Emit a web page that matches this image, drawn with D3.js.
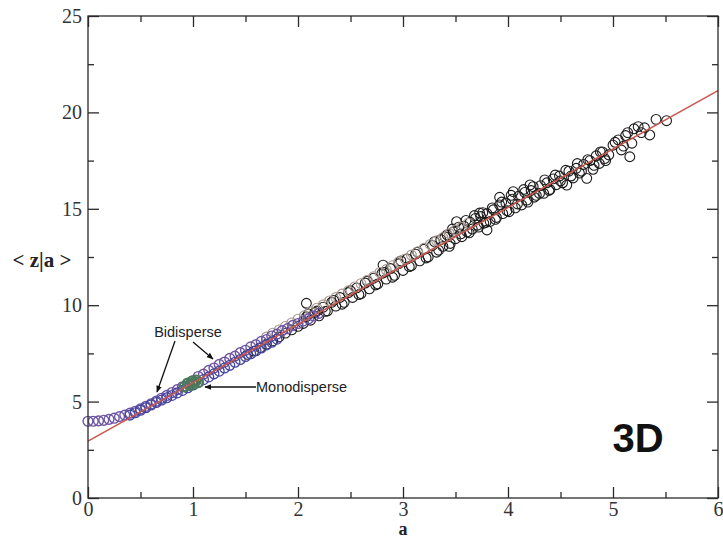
<!DOCTYPE html>
<html>
<head>
<meta charset="utf-8">
<script src="https://cdn.jsdelivr.net/npm/d3@7/dist/d3.min.js"></script>
<style>
  html, body { margin: 0; padding: 0; background: #fff; }
  svg { display: block; }
</style>
</head>
<body>
<svg id="chart" width="723" height="538"></svg>
<script>
// Axis ticks
const xTicks = [0, 1, 2, 3, 4, 5, 6];
const yTicks = [0, 5, 10, 15, 20, 25];

// Bidisperse packing, first component (purple)
const bidisperseA = [
  [0.00,3.98],[0.05,3.98],[0.10,4.00],[0.15,4.03],[0.20,4.08],[0.25,4.14],[0.30,4.22],
  [0.35,4.30],[0.40,4.40],[0.45,4.50],[0.50,4.62],[0.55,4.75],[0.60,4.88],[0.65,5.02],
  [0.70,5.17],[0.75,5.32],[0.80,5.47],[0.85,5.62],[0.90,5.77],[0.95,5.92],[1.00,6.07],
  [1.05,6.30],[1.10,6.42],[1.15,6.62],[1.20,6.74],[1.25,6.93],[1.30,7.05],[1.35,7.24],
  [1.40,7.36],[1.45,7.54],[1.50,7.66],[1.55,7.84],[1.60,7.95],[1.65,8.12],[1.70,8.22],
  [1.75,8.40],[1.80,8.50],[1.85,8.68],[1.90,8.78],[1.95,8.95],[2.00,9.05],[2.05,9.18],
  [2.10,9.30],[2.15,9.44],[2.20,9.58]
];

// Bidisperse packing, second component (blue)
const bidisperseB = [
  [0.40,4.30],[0.45,4.42],[0.50,4.55],[0.55,4.68],[0.60,4.82],[0.65,4.95],[0.70,5.08],
  [0.75,5.20],[0.80,5.32],[0.85,5.45],[0.90,5.58],[0.95,5.72],[1.00,5.86],[1.05,6.00],
  [1.10,6.14],[1.15,6.28],[1.20,6.44],[1.25,6.58],[1.30,6.74],[1.35,6.88],[1.40,7.04],
  [1.45,7.18],[1.50,7.34],[1.55,7.48],[1.60,7.64],[1.65,7.78],[1.70,7.94],[1.75,8.08],
  [1.80,8.24]
];

// Monodisperse packing (green)
const monodisperse = [
  [0.92,5.78],[0.95,5.95],[0.97,5.85],[0.99,6.05],[1.01,5.92],[1.03,6.10],[1.05,6.00]
];

// Larger systems (gray)
const graySeries = [
  [1.70,8.35],[1.76,8.55],[1.82,8.72],[1.88,8.90],[1.94,9.08],[2.00,9.28],[2.06,9.45],
  [2.12,9.66],[2.18,9.85],[2.24,10.02],[2.30,10.22],[2.36,10.40],[2.42,10.58],[2.48,10.75],
  [2.54,10.95],[2.60,11.12],[2.66,11.30],[2.72,11.48],[2.78,11.70],[2.84,11.85],[2.90,12.05],
  [2.96,12.25],[3.02,12.40],[3.08,12.60],[3.14,12.78],[3.20,12.95],[3.26,13.15],[3.32,13.35],
  [3.38,13.50],[3.44,13.72],[3.50,13.90],[3.56,14.05],[3.62,14.25]
];

// Larger systems (black)
const blackSeries = [
  [1.52,7.45],[1.58,7.62],[1.64,7.80],[1.70,7.98],[1.76,8.15],[1.82,8.35],[1.88,8.55],
  [1.94,8.72],[2.00,8.90],[2.05,9.05],
  [2.08,10.10],[2.08,9.40],[2.12,9.22],[2.16,9.62],[2.20,9.45],[2.24,9.90],[2.28,9.70],
  [2.32,10.15],[2.36,9.95],[2.40,10.40],[2.44,10.15],[2.48,10.65],[2.52,10.40],[2.56,10.90],
  [2.60,10.60],[2.64,11.15],[2.68,10.85],[2.72,11.40],[2.76,11.10],[2.81,12.08],[2.80,11.65],
  [2.84,11.35],[2.88,11.90],[2.92,11.55],[2.96,12.15],[3.00,11.80],
  [3.04,12.40],[3.08,12.05],[3.12,12.65],[3.16,12.30],[3.20,12.90],[3.24,12.50],[3.28,13.10],
  [3.32,12.75],[3.36,13.40],[3.38,13.05],[3.42,13.65],[3.45,13.20],[3.48,13.80],[3.50,13.45],
  [3.51,14.33],[3.53,14.05],[3.56,13.55],[3.58,14.10],[3.61,13.80],[3.64,14.30],[3.66,13.95],
  [3.69,14.50],[3.72,14.05],[3.73,14.78],[3.74,14.60],[3.77,14.25],[3.80,13.90],[3.80,14.75],
  [3.83,14.35],[3.86,14.95],[3.89,14.55],[3.92,15.60],[3.92,15.20],[3.95,14.75],[3.98,15.30],
  [4.01,14.85],[4.05,15.89],[4.04,15.50],[4.07,15.05],[4.10,15.65],[4.13,15.20],[4.16,15.85],
  [4.19,15.35],[4.21,16.24],[4.22,15.95],[4.25,15.60],[4.30,15.80],[4.31,16.20],[4.34,15.80],
  [4.37,16.35],[4.40,16.00],[4.43,16.55],[4.46,16.25],[4.49,16.70],[4.52,16.35],[4.56,16.23],
  [4.58,16.95],[4.62,16.60],[4.65,17.10],[4.68,16.85],[4.72,17.30],[4.75,16.58],[4.78,17.50],
  [4.81,17.05],[4.84,17.75],[4.87,17.35],[4.90,17.95],[4.93,17.50],[4.96,17.80],
  [5.00,18.30],[5.05,18.57],[5.08,18.05],[5.12,18.80],[5.16,17.70],[5.18,18.40],[5.20,19.15],
  [5.24,19.26],[5.27,18.95],[5.30,19.20],[5.35,18.83],[5.41,19.64],[5.51,19.57],
  [2.10,9.55],[2.18,9.70],[2.26,9.68],[2.34,10.25],[2.42,10.05],[2.50,10.75],[2.58,10.55],
  [2.66,11.25],[2.74,11.05],[2.82,11.70],[2.90,11.45],[2.98,12.30],[3.06,12.00],[3.14,12.75],
  [3.22,12.45],[3.30,13.30],[3.34,12.85],[3.40,13.55],[3.44,13.05],[3.47,13.95],[3.55,13.70],
  [3.60,14.40],[3.63,13.75],[3.68,14.65],[3.71,14.15],[3.76,14.80],[3.79,14.30],[3.85,15.05],
  [3.88,14.45],[3.94,15.35],[3.99,14.90],[4.03,15.70],[4.09,15.25],[4.15,16.00],[4.18,15.45],
  [4.24,16.15],[4.27,15.70],[4.35,16.50],[4.39,15.95],[4.45,16.75],[4.50,16.45],[4.55,17.00],
  [4.60,16.70],[4.66,17.35],[4.70,16.95],[4.76,17.55],[4.82,17.25],[4.88,17.95],[4.92,17.60],
  [5.02,18.45],[5.10,18.25],[5.14,18.95]
];

// Linear fit  <z|a> = intercept + slope * a
const fitIntercept = 2.95;
const fitSlope = 3.03;

const svg = d3.select("#chart");
const W = 723, H = 538;
const margin = { left: 88, right: 5, top: 16, bottom: 40 };
const x = d3.scaleLinear().domain([0, 6]).range([margin.left, W - margin.right]);
const y = d3.scaleLinear().domain([0, 25]).range([H - margin.bottom, margin.top]);

const axisColor = "#2a2a2a";
const serif = "'Liberation Serif', 'Times New Roman', Times, serif";
const sans = "'Liberation Sans', Arial, Helvetica, sans-serif";

// Scatter series
function drawSeries(data, color, width) {
  svg.append("g")
    .selectAll("circle")
    .data(data)
    .join("circle")
    .attr("cx", d => x(d[0]))
    .attr("cy", d => y(d[1]))
    .attr("r", 4.9)
    .attr("fill", "none")
    .attr("stroke", color)
    .attr("stroke-width", width);
}
drawSeries(blackSeries, "#1c1c1c", 1.1);
drawSeries(graySeries, "#a89890", 1.1);
drawSeries(bidisperseA, "#6c55a2", 1.4);
drawSeries(bidisperseB, "#45459e", 1.3);
drawSeries(monodisperse, "#4b7a5c", 2.0);

// Fit line
svg.append("line")
  .attr("x1", x(0)).attr("y1", y(fitIntercept))
  .attr("x2", x(6)).attr("y2", y(fitIntercept + fitSlope * 6))
  .attr("stroke", "#c9574d")
  .attr("stroke-width", 1.5);

// Frame with inward ticks on all sides
const frame = svg.append("g");
frame.append("rect")
  .attr("x", x(0)).attr("y", y(25))
  .attr("width", x(6) - x(0)).attr("height", y(0) - y(25))
  .attr("fill", "none").attr("stroke", axisColor).attr("stroke-width", 1.3);

const bottomAxis = d3.axisBottom(x).tickValues(xTicks).tickSize(-11).tickFormat(d3.format("d")).tickPadding(4);
const bottomMinor = d3.axisBottom(x).tickValues(d3.range(0.5, 6, 1)).tickSize(-6).tickFormat("");
const topAxis = d3.axisTop(x).tickValues(xTicks).tickSize(-11).tickFormat("");
const topMinor = d3.axisTop(x).tickValues(d3.range(0.5, 6, 1)).tickSize(-6).tickFormat("");
const leftAxis = d3.axisLeft(y).tickValues(yTicks).tickSize(-11).tickFormat(d3.format("d")).tickPadding(6);
const leftMinor = d3.axisLeft(y).tickValues(d3.range(2.5, 25, 5)).tickSize(-6).tickFormat("");
const rightAxis = d3.axisRight(y).tickValues(yTicks).tickSize(-11).tickFormat("");
const rightMinor = d3.axisRight(y).tickValues(d3.range(2.5, 25, 5)).tickSize(-6).tickFormat("");

function styleAxis(g, size) {
  g.attr("font-family", serif).attr("font-size", size);
  g.select(".domain").remove();
  g.selectAll(".tick line").attr("stroke", axisColor).attr("stroke-width", 1.3);
  g.selectAll(".tick text").attr("fill", "#333");
}
frame.append("g").attr("transform", `translate(0,${y(0)})`).call(bottomAxis).call(styleAxis, 20);
frame.append("g").attr("transform", `translate(0,${y(0)})`).call(bottomMinor).call(styleAxis, 20);
frame.append("g").attr("transform", `translate(0,${y(25)})`).call(topAxis).call(styleAxis, 20);
frame.append("g").attr("transform", `translate(0,${y(25)})`).call(topMinor).call(styleAxis, 20);
frame.append("g").attr("transform", `translate(${x(0)},0)`).call(leftAxis).call(styleAxis, 20);
frame.append("g").attr("transform", `translate(${x(0)},0)`).call(leftMinor).call(styleAxis, 20);
frame.append("g").attr("transform", `translate(${x(6)},0)`).call(rightAxis).call(styleAxis, 20);
frame.append("g").attr("transform", `translate(${x(6)},0)`).call(rightMinor).call(styleAxis, 20);

// Axis titles
svg.append("text")
  .attr("x", x(3)).attr("y", 535)
  .attr("text-anchor", "middle")
  .attr("font-family", serif).attr("font-size", 18).attr("font-weight", "bold")
  .attr("fill", "#222")
  .text("a");
svg.append("text")
  .attr("x", 42).attr("y", 267)
  .attr("text-anchor", "middle")
  .attr("font-family", serif).attr("font-size", 21).attr("font-weight", "bold")
  .attr("fill", "#222")
  .text("< z|a >");

// Annotations
const defs = svg.append("defs");
defs.append("marker")
  .attr("id", "arrow")
  .attr("viewBox", "0 0 10 10")
  .attr("refX", 9).attr("refY", 5)
  .attr("markerWidth", 7).attr("markerHeight", 7)
  .attr("markerUnits", "userSpaceOnUse")
  .attr("orient", "auto")
  .append("path")
  .attr("d", "M0,1 L10,5 L0,9 Z")
  .attr("fill", "#111");

svg.append("text")
  .attr("x", 188).attr("y", 337)
  .attr("text-anchor", "middle")
  .attr("font-family", sans).attr("font-size", 14.5)
  .attr("fill", "#222")
  .text("Bidisperse");
svg.append("line")
  .attr("x1", 175).attr("y1", 341).attr("x2", 157).attr("y2", 392)
  .attr("stroke", "#111").attr("stroke-width", 1.3).attr("marker-end", "url(#arrow)");
svg.append("line")
  .attr("x1", 193).attr("y1", 342).attr("x2", 213).attr("y2", 359)
  .attr("stroke", "#111").attr("stroke-width", 1.3).attr("marker-end", "url(#arrow)");

svg.append("text")
  .attr("x", 256).attr("y", 392)
  .attr("font-family", sans).attr("font-size", 14.5)
  .attr("fill", "#222")
  .text("Monodisperse");
svg.append("line")
  .attr("x1", 256).attr("y1", 387).attr("x2", 205).attr("y2", 387)
  .attr("stroke", "#111").attr("stroke-width", 1.3).attr("marker-end", "url(#arrow)");

svg.append("text")
  .attr("x", 638).attr("y", 452)
  .attr("text-anchor", "middle")
  .attr("font-family", sans).attr("font-size", 40).attr("font-weight", "bold")
  .attr("fill", "#111")
  .text("3D");
</script>
</body>
</html>
